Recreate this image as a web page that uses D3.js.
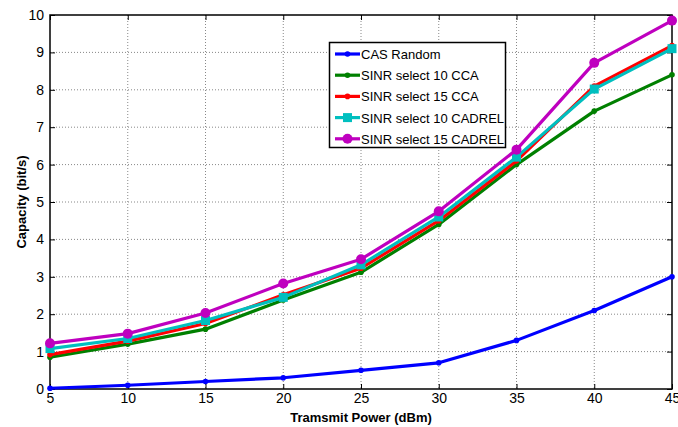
<!DOCTYPE html>
<html><head><meta charset="utf-8">
<script src="https://cdn.jsdelivr.net/npm/d3@7"></script>
<style>body{margin:0;background:#fff}svg{display:block}</style>
</head><body><svg id="c" width="678" height="427"></svg>
<script>
const xValues = [5, 10, 15, 20, 25, 30, 35, 40, 45];
const casRandom = [0.02, 0.1, 0.2, 0.3, 0.5, 0.7, 1.3, 2.1, 3.0];
const sinr10CCA = [0.85, 1.2, 1.6, 2.38, 3.12, 4.4, 6.0, 7.43, 8.4];
const sinr15CCA = [0.92, 1.28, 1.75, 2.52, 3.23, 4.5, 6.1, 8.1, 9.18];
const sinr10CADREL = [1.08, 1.35, 1.83, 2.45, 3.32, 4.6, 6.2, 8.02, 9.1];
const sinr15CADREL = [1.22, 1.48, 2.03, 2.82, 3.47, 4.75, 6.4, 8.72, 9.85];
const seriesNames = ["CAS Random", "SINR select 10 CCA", "SINR select 15 CCA", "SINR select 10 CADREL", "SINR select 15 CADREL"];
const xTicks = [5, 10, 15, 20, 25, 30, 35, 40, 45];
const yTicks = [0, 1, 2, 3, 4, 5, 6, 7, 8, 9, 10];
const xLabel = "Tramsmit Power (dBm)";
const yLabel = "Capacity (bit/s)";

const series = [
  {name: seriesNames[0], values: casRandom, color: "#0000ff", marker: "dot"},
  {name: seriesNames[1], values: sinr10CCA, color: "#008000", marker: "dot"},
  {name: seriesNames[2], values: sinr15CCA, color: "#ff0000", marker: "dot"},
  {name: seriesNames[3], values: sinr10CADREL, color: "#00bfbf", marker: "square"},
  {name: seriesNames[4], values: sinr15CADREL, color: "#bf00bf", marker: "circle"}
];

const L = 50, R = 672, T = 15, B = 389;
const svg = d3.select("#c");
const x = d3.scaleLinear().domain([5, 45]).range([L, R]);
const y = d3.scaleLinear().domain([0, 10]).range([B, T]);
const font = "'Liberation Sans', Arial, sans-serif";

// grid
const g = svg.append("g");
g.selectAll(".gx").data(xTicks.slice(1, -1)).enter().append("line")
  .attr("x1", d => x(d)).attr("x2", d => x(d)).attr("y1", T).attr("y2", B)
  .attr("stroke", "#888").attr("stroke-width", 1).attr("stroke-dasharray", "1,2");
g.selectAll(".gy").data(yTicks.slice(1, -1)).enter().append("line")
  .attr("y1", d => y(d)).attr("y2", d => y(d)).attr("x1", L).attr("x2", R)
  .attr("stroke", "#888").attr("stroke-width", 1).attr("stroke-dasharray", "1,2");

// axes with inward ticks
const ax = d3.axisBottom(x).tickValues(xTicks).tickSize(-5).tickPadding(4).tickFormat(d3.format("d"));
const ay = d3.axisLeft(y).tickValues(yTicks).tickSize(-5).tickPadding(6).tickFormat(d3.format("d"));
const axT = d3.axisTop(x).tickValues(xTicks).tickSize(-5).tickFormat("");
const ayR = d3.axisRight(y).tickValues(yTicks).tickSize(-5).tickFormat("");
function style(sel) {
  sel.select(".domain").remove();
  sel.selectAll("line").attr("stroke", "#000");
  sel.selectAll("text").attr("font-family", font).attr("font-size", 14).attr("fill", "#000");
}
svg.append("g").attr("transform", `translate(0,${B})`).call(ax).call(style);
svg.append("g").attr("transform", `translate(${L},0)`).call(ay).call(style);
svg.append("g").attr("transform", `translate(0,${T})`).call(axT).call(style);
svg.append("g").attr("transform", `translate(${R},0)`).call(ayR).call(style);
svg.append("rect").attr("x", L).attr("y", T).attr("width", R - L).attr("height", B - T)
  .attr("fill", "none").attr("stroke", "#000").attr("stroke-width", 1.5);

// lines
const line = d3.line().x((d, i) => x(xValues[i])).y(d => y(d));
function drawMarker(sel, type, color, cx, cy) {
  if (type === "square") sel.append("rect").attr("x", cx - 4.5).attr("y", cy - 4.5).attr("width", 9).attr("height", 9).attr("fill", color);
  else if (type === "circle") sel.append("circle").attr("cx", cx).attr("cy", cy).attr("r", 5).attr("fill", color);
  else sel.append("circle").attr("cx", cx).attr("cy", cy).attr("r", 2.8).attr("fill", color);
}
series.forEach(s => {
  const gs = svg.append("g");
  gs.append("path").datum(s.values).attr("d", line).attr("fill", "none")
    .attr("stroke", s.color).attr("stroke-width", 3.2).attr("stroke-linejoin", "round");
  s.values.forEach((v, i) => drawMarker(gs, s.marker, s.color, x(xValues[i]), y(v)));
});

// legend
const lg = svg.append("g");
lg.append("rect").attr("x", 329.5).attr("y", 42.5).attr("width", 176).attr("height", 105)
  .attr("fill", "#fff").attr("stroke", "#000").attr("stroke-width", 1.5);
series.forEach((s, i) => {
  const yy = 54 + i * 21.2;
  lg.append("line").attr("x1", 335).attr("x2", 360).attr("y1", yy).attr("y2", yy)
    .attr("stroke", s.color).attr("stroke-width", 3.2);
  drawMarker(lg, s.marker, s.color, 347.5, yy);
  lg.append("text").attr("x", 361).attr("y", yy + 5).text(s.name)
    .attr("font-family", font).attr("font-size", 13).attr("fill", "#000");
});

// axis labels
svg.append("text").attr("x", (L + R) / 2).attr("y", 422).attr("text-anchor", "middle")
  .attr("font-family", font).attr("font-weight", "bold").attr("font-size", 13).text(xLabel);
svg.append("text").attr("transform", `translate(26,${(T + B) / 2}) rotate(-90)`).attr("text-anchor", "middle")
  .attr("font-family", font).attr("font-weight", "bold").attr("font-size", 13).text(yLabel);
</script></body></html>
